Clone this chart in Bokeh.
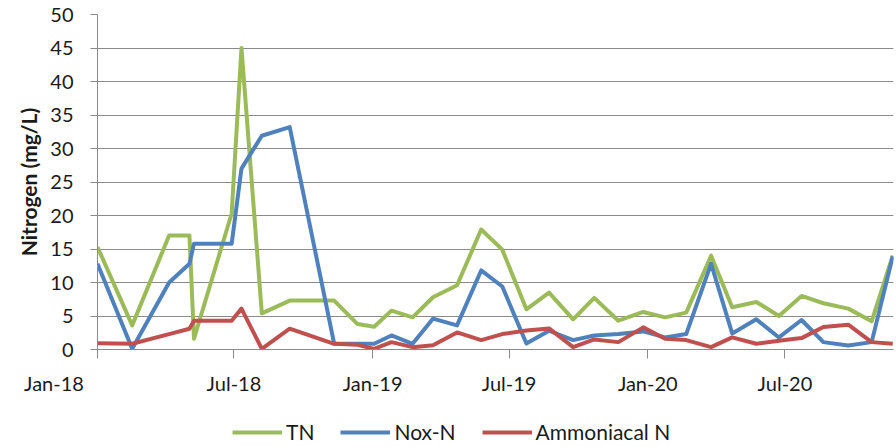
import pandas as pd
from bokeh.plotting import figure
from bokeh.layouts import column
from bokeh.models import (ColumnDataSource, Range1d, FixedTicker, DatetimeTickFormatter,
                          Legend, LegendItem)
from bokeh.embed import file_html
from bokeh.resources import INLINE

sample_dates = ["2018-01-01", "2018-02-16", "2018-04-06", "2018-05-03", "2018-05-09",
                "2018-06-28", "2018-07-11", "2018-08-07", "2018-09-13", "2018-11-11",
                "2018-12-12", "2019-01-03", "2019-01-26", "2019-02-23", "2019-03-22",
                "2019-04-23", "2019-05-25", "2019-06-22", "2019-07-24", "2019-08-23",
                "2019-09-24", "2019-10-22", "2019-11-23", "2019-12-26", "2020-01-24",
                "2020-02-21", "2020-03-25", "2020-04-22", "2020-05-24", "2020-06-23",
                "2020-07-23", "2020-08-21", "2020-09-23", "2020-10-24", "2020-11-21"]
tn = [15.3, 3.6, 17.0, 17.0, 1.6, 20.3, 45.0, 5.4, 7.3, 7.3, 3.8, 3.4, 5.8, 4.8, 7.8,
      9.6, 17.9, 14.9, 6.0, 8.5, 4.5, 7.7, 4.3, 5.6, 4.8, 5.5, 14.0, 6.3, 7.1, 5.0,
      8.0, 6.9, 6.1, 4.2, 14.0]
nox_n = [12.8, 0.1, 10.0, 12.8, 15.8, 15.8, 27.0, 31.9, 33.2, 0.85, 0.85, 0.85, 2.1, 0.85,
         4.6, 3.6, 11.8, 9.4, 0.9, 2.8, 1.4, 2.1, 2.3, 2.7, 1.8, 2.3, 12.8, 2.4, 4.5, 1.8,
         4.4, 1.1, 0.6, 1.1, 13.9]
ammoniacal_n = [0.95, 0.85, 2.3, 3.1, 4.3, 4.3, 6.1, 0.1, 3.1, 0.85, 0.7, 0.1, 1.1, 0.35,
                0.65, 2.55, 1.4, 2.3, 2.85, 3.15, 0.35, 1.5, 1.1, 3.3, 1.6, 1.4, 0.35, 1.8,
                0.85, 1.3, 1.7, 3.35, 3.7, 1.1, 0.85]
series_names = ["TN", "Nox-N", "Ammoniacal N"]
series_colors = ["#9BBB59", "#4F81BD", "#C0504D"]
tick_dates = ["2018-01-01", "2018-07-01", "2019-01-01", "2019-07-01", "2020-01-01", "2020-07-01"]
y_ticks = [0, 5, 10, 15, 20, 25, 30, 35, 40, 45, 50]

FONT = "Lato"
TEXT = "#1a1a1a"
GRID = "#8A8A8A"
LW = 4

src = ColumnDataSource(dict(date=pd.to_datetime(sample_dates), tn=tn, nox=nox_n, nh3=ammoniacal_n))

p = figure(width=896, height=400, x_axis_type="datetime", output_backend="svg",
           toolbar_location=None,
           x_range=Range1d(pd.Timestamp("2018-01-01"), pd.Timestamp("2020-11-22")),
           y_range=Range1d(0, 50),
           min_border_left=97, min_border_right=3, min_border_top=14, min_border_bottom=51)
p.outline_line_color = None
p.background_fill_color = "white"
p.border_fill_color = "white"

for col, color in zip(["tn", "nox", "nh3"], series_colors):
    p.line("date", col, source=src, line_color=color, line_width=LW, line_join="round")

# axes
tick_ms = [int(pd.Timestamp(d).value // 10**6) for d in tick_dates]
p.xaxis.ticker = FixedTicker(ticks=tick_ms)
p.xaxis.formatter = DatetimeTickFormatter(days="%b-%y", months="%b-%y", years="%b-%y")
# first label sits left of the axis in the reference
p.xaxis.major_label_overrides = {tick_ms[0]: "Jan-18" + "\u00a0" * 17}
p.yaxis.ticker = FixedTicker(ticks=y_ticks)
for ax in (p.xaxis, p.yaxis):
    ax.axis_line_color = GRID
    ax.major_tick_line_color = GRID
    ax.minor_tick_line_color = None
    ax.major_tick_in = 0
    ax.major_label_text_font = FONT
    ax.major_label_text_font_size = "20px"
    ax.major_label_text_color = TEXT
p.xaxis.major_tick_out = 9
p.xaxis.major_label_standoff = 12
p.yaxis.major_tick_out = 7
p.yaxis.major_label_standoff = 17
p.yaxis.axis_label = "Nitrogen (mg/L)"
p.yaxis.axis_label_text_font = FONT
p.yaxis.axis_label_text_font_style = "bold"
p.yaxis.axis_label_text_font_size = "21px"
p.yaxis.axis_label_text_color = TEXT
p.yaxis.axis_label_standoff = 6

p.xgrid.grid_line_color = None
p.ygrid.grid_line_color = GRID
p.ygrid.grid_line_width = 1

# legend strip below the chart (its frame is aligned with the chart frame, starting at x=97)
lg = figure(width=896, height=46, output_backend="svg", toolbar_location=None,
            x_range=Range1d(0, 1), y_range=Range1d(0, 1),
            x_axis_location=None, y_axis_location=None,
            min_border_left=0, min_border_right=0, min_border_top=0, min_border_bottom=0)
lg.outline_line_color = None
lg.xgrid.grid_line_color = None
lg.ygrid.grid_line_color = None
# legend proxies: a point outside the visible range so only the legend swatch shows
legend_renderers = [lg.line(x=[-2, -1], y=[-2, -1], line_color=c, line_width=LW) for c in series_colors]
legend = Legend(items=[LegendItem(label=n, renderers=[r]) for n, r in zip(series_names, legend_renderers)],
                orientation="horizontal", location=(135, 2),
                glyph_width=50, glyph_height=16, label_height=16, label_standoff=4,
                spacing=26, padding=0, margin=0,
                border_line_alpha=0, background_fill_alpha=0,
                label_text_font=FONT, label_text_font_size="21px", label_text_color=TEXT)
lg.add_layout(legend, "center")

layout = column(p, lg, spacing=0)
open("out.html", "w").write(file_html(layout, INLINE))
